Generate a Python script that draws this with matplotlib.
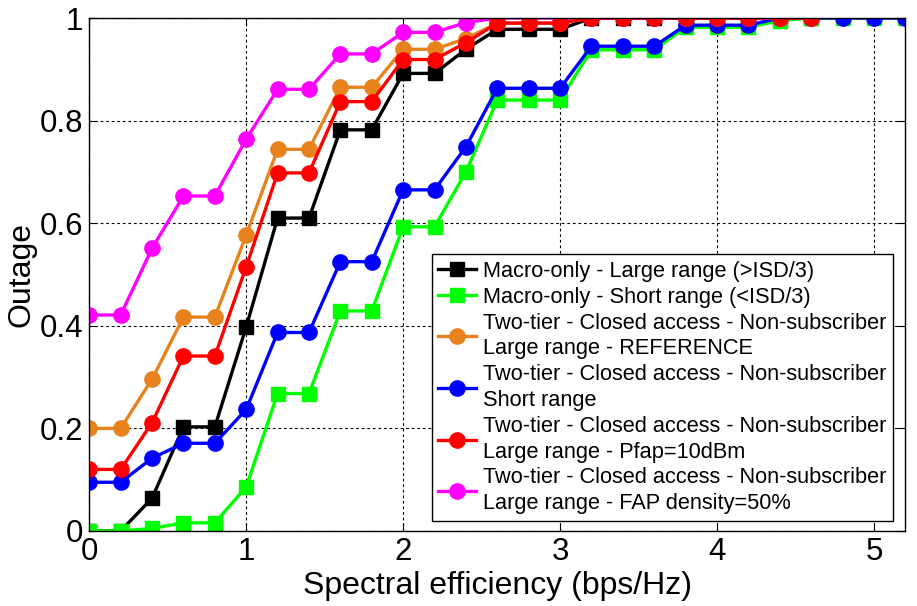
import numpy as np
import matplotlib
matplotlib.use('Agg')
import matplotlib.pyplot as plt

plt.rcParams['font.family'] = ['Liberation Sans', 'DejaVu Sans']

# spectral efficiency grid (bps/Hz)
x_long = [round(0.2 * i, 1) for i in range(27)]   # 0 .. 5.2
x_short = x_long[:24]                              # 0 .. 4.6

macro_large = [0, 0, 0.064, 0.203, 0.203, 0.398, 0.61, 0.61, 0.782, 0.782, 0.892, 0.892,
               0.939, 0.978, 0.978, 0.978, 1, 1, 1, 1, 1, 1, 1, 1]
macro_short = [0, 0, 0.005, 0.016, 0.016, 0.086, 0.268, 0.268, 0.429, 0.429, 0.593, 0.593,
               0.700, 0.840, 0.840, 0.840, 0.938, 0.938, 0.938, 0.982, 0.982, 0.982, 0.995,
               1, 1, 1, 1]
two_tier_ref = [0.2, 0.2, 0.296, 0.417, 0.417, 0.577, 0.744, 0.744, 0.865, 0.865, 0.939, 0.939,
                0.96, 0.99, 0.99, 0.99, 1, 1, 1, 1, 1, 1, 1, 1]
two_tier_short = [0.095, 0.095, 0.142, 0.171, 0.171, 0.237, 0.387, 0.387, 0.525, 0.525, 0.665,
                  0.665, 0.749, 0.863, 0.863, 0.863, 0.945, 0.945, 0.945, 0.986, 0.986, 0.986,
                  1, 1, 1, 1, 1]
two_tier_pfap = [0.12, 0.12, 0.211, 0.341, 0.341, 0.515, 0.698, 0.698, 0.837, 0.837, 0.919, 0.919,
                 0.952, 0.99, 0.99, 0.99, 1, 1, 1, 1, 1, 1, 1, 1]
two_tier_dens = [0.421, 0.421, 0.551, 0.653, 0.653, 0.764, 0.861, 0.861, 0.930, 0.930, 0.972,
                 0.972, 0.991, 1, 1, 1, 1, 1, 1, 1, 1, 1, 1, 1]

labels = ['Macro-only - Large range (>ISD/3)',
          'Macro-only - Short range (<ISD/3)',
          'Two-tier - Closed access - Non-subscriber\nLarge range - REFERENCE',
          'Two-tier - Closed access - Non-subscriber\nShort range',
          'Two-tier - Closed access - Non-subscriber\nLarge range - Pfap=10dBm',
          'Two-tier - Closed access - Non-subscriber\nLarge range - FAP density=50%']

fig = plt.figure(figsize=(9.17, 6.06), dpi=100)
ax = fig.add_axes([89.3 / 917, 75 / 606, 816 / 917, 513 / 606])

lw = 2.4
h_black, = ax.plot(x_short, macro_large, '-s', color='black', lw=lw, ms=9.5)
h_green, = ax.plot(x_long, macro_short, '-s', color='#00ff00', lw=lw, ms=9.5)
h_blue, = ax.plot(x_long, two_tier_short, '-o', color='#0000ff', lw=lw, ms=11)
h_orange, = ax.plot(x_short, two_tier_ref, '-o', color='#e8821c', lw=lw, ms=11)
h_mag, = ax.plot(x_short, two_tier_dens, '-o', color='#ff00ff', lw=lw, ms=11)
h_red, = ax.plot(x_short, two_tier_pfap, '-o', color='#ff0000', lw=lw, ms=11)

ax.set_xlim(0, 5.2)
ax.set_ylim(0, 1)
ax.set_xticks([0, 1, 2, 3, 4, 5])
ax.set_xticklabels(['0', '1', '2', '3', '4', '5'])
ax.set_yticks([0, 0.2, 0.4, 0.6, 0.8, 1])
ax.set_yticklabels(['0', '0.2', '0.4', '0.6', '0.8', '1'])
ax.tick_params(direction='in', labelsize=22.5, length=6, pad=4.5, top=True, right=True)
ax.grid(True, color='black', linestyle=(0, (2.5, 2.5)), linewidth=0.8)
for s in ax.spines.values():
    s.set_linewidth(1.0)

ax.set_xlabel('Spectral efficiency (bps/Hz)', fontsize=23, labelpad=3)
ax.set_ylabel('Outage', fontsize=23, labelpad=2)

leg = ax.legend([h_black, h_green, h_orange, h_blue, h_red, h_mag], labels,
                loc='lower right', bbox_to_anchor=(0.985, 0.02), fontsize=15.7,
                fancybox=False, framealpha=1, edgecolor='black', borderpad=0.3,
                labelspacing=0.22, handlelength=1.7, handletextpad=0.35,
                borderaxespad=0)
leg.get_frame().set_linewidth(1.0)
for t in leg.get_texts():
    t.set_linespacing(1.3)

fig.savefig('out.png', dpi=100)
